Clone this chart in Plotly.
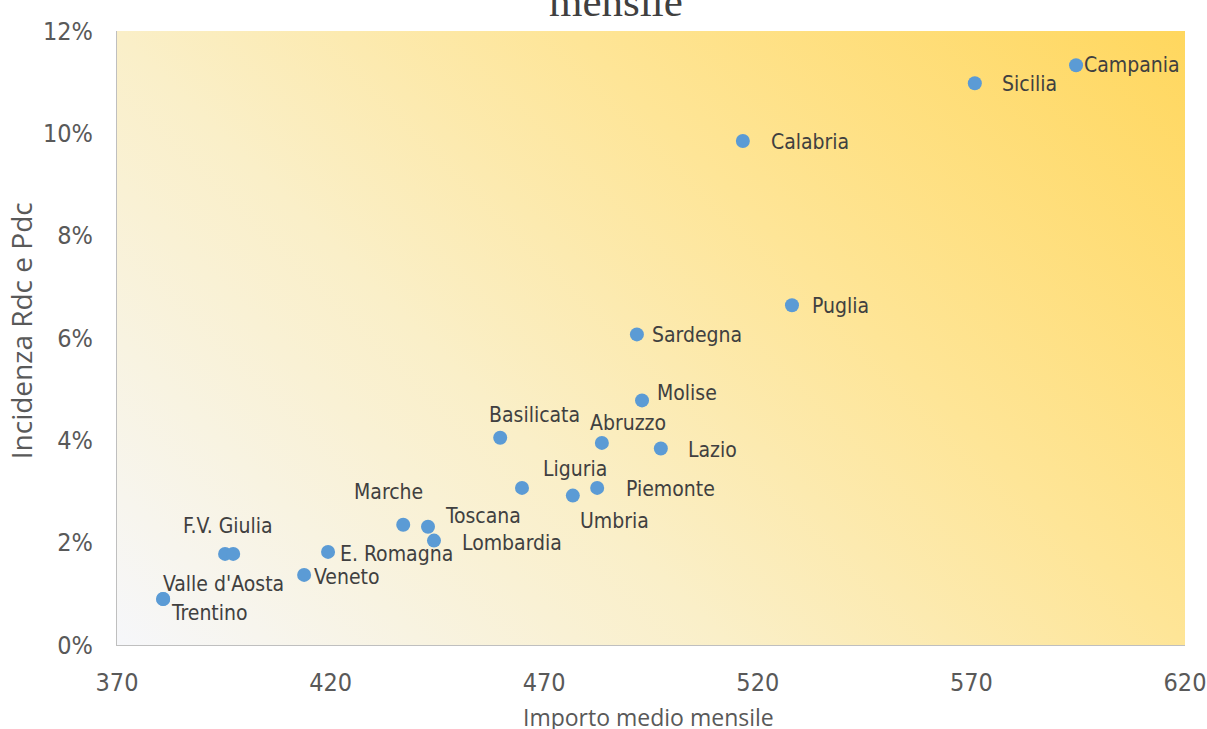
import plotly.graph_objects as go
import urllib.parse

# ---- data ----
regions = ["Campania", "Sicilia", "Calabria", "Puglia", "Sardegna", "Molise",
           "Basilicata", "Abruzzo", "Lazio", "Liguria", "Piemonte", "Umbria",
           "Marche", "Toscana", "Lombardia", "E. Romagna", "F.V. Giulia", "",
           "Veneto", "Valle d'Aosta", "Trentino"]
importo = [594.5, 570.8, 516.5, 528.0, 491.7, 492.9,
           459.7, 483.5, 497.3, 464.8, 482.4, 476.7,
           437.0, 442.8, 444.2, 419.4, 395.3, 397.2,
           413.8, 380.8, 380.8]
incidenza = [0.1133, 0.1098, 0.0985, 0.0664, 0.0607, 0.0478,
             0.0405, 0.0395, 0.0384, 0.0307, 0.0307, 0.0292,
             0.0235, 0.0231, 0.0204, 0.0182, 0.0178, 0.0178,
             0.0137, 0.0090, 0.0090]
x_ticks = [370, 420, 470, 520, 570, 620]
y_ticks = [0, 0.02, 0.04, 0.06, 0.08, 0.10, 0.12]

# ---- label styling (offsets in px: xanchor, xshift, yshift) ----
label_style = {
    "Campania": ("left", 6, 0), "Sicilia": ("left", 25, -1), "Calabria": ("left", 26, -1),
    "Puglia": ("left", 18, -1), "Sardegna": ("left", 13, -1), "Molise": ("left", 13, 7),
    "Basilicata": ("left", -13, 23), "Abruzzo": ("left", -14, 20), "Lazio": ("left", 25, -1),
    "Liguria": ("left", 19, 19), "Piemonte": ("left", 27, -1), "Umbria": ("left", 5, -25),
    "Marche": ("left", -51, 33), "Toscana": ("left", 15, 11), "Lombardia": ("left", 26, -2),
    "E. Romagna": ("left", 10, -2), "F.V. Giulia": ("left", -44, 28), "Veneto": ("left", 8, -2),
    "Valle d'Aosta": ("left", -2, 15), "Trentino": ("left", 6, -14),
}

NARROW = "Liberation Sans Narrow, DejaVu Sans Condensed, Arial Narrow, sans-serif"
TXT = "#404040"
AX = "#595959"

fig = go.Figure()
fig.add_trace(go.Scatter(
    x=importo, y=incidenza, mode="markers",
    marker=dict(size=14, color="#5b9bd5"),
    text=regions, hoverinfo="text+x+y", showlegend=False,
))

for name, xv, yv in zip(regions, importo, incidenza):
    if not name:
        continue
    anc, dx, dy = label_style[name]
    fig.add_annotation(x=xv, y=yv, xref="x", yref="y", text=name, showarrow=False,
                       xanchor=anc, yanchor="middle", xshift=dx, yshift=dy,
                       font=dict(family=NARROW, size=21, color=TXT))

# 45-degree linear gradient for the plot-area fill
svg = ('<svg xmlns="http://www.w3.org/2000/svg" width="1068" height="614" '
       'viewBox="0 0 1068 614" preserveAspectRatio="none">'
       '<defs><linearGradient id="g" gradientUnits="userSpaceOnUse" '
       'x1="0" y1="614" x2="841" y2="-227">'
       '<stop offset="0" stop-color="#f6f7fa"/>'
       '<stop offset="0.365" stop-color="#faefc8"/>'
       '<stop offset="0.635" stop-color="#fee597"/>'
       '<stop offset="1" stop-color="#ffd75e"/>'
       '</linearGradient></defs><rect width="1068" height="614" fill="url(#g)"/></svg>')
src = "data:image/svg+xml;charset=utf-8," + urllib.parse.quote(svg)

fig.add_layout_image(dict(source=src, xref="paper", yref="paper", x=0, y=1,
                          sizex=1, sizey=1, xanchor="left", yanchor="top",
                          sizing="stretch", layer="below"))

# title (only its last line is visible, cut at the top edge)
fig.add_annotation(text="mensile", xref="paper", yref="paper", x=0.467, y=1.0,
                   yshift=4, yanchor="bottom", showarrow=False,
                   font=dict(family="Liberation Serif, serif", size=43, color=TXT))
# axis titles
fig.add_annotation(text="Importo medio mensile", xref="paper", yref="paper", x=0.498, y=0,
                   yshift=-72, yanchor="middle", showarrow=False,
                   font=dict(family="Open Sans, sans-serif", size=23, color=AX))
fig.add_annotation(text="Incidenza Rdc e Pdc", xref="paper", yref="paper", x=0, y=0.511,
                   xshift=-96, xanchor="center", yanchor="middle", textangle=-90,
                   showarrow=False,
                   font=dict(family="Open Sans, sans-serif", size=28, color=AX))

fig.update_layout(
    width=1207, height=729,
    margin=dict(l=117, r=22, t=31, b=84),
    paper_bgcolor="white", plot_bgcolor="rgba(0,0,0,0)",
    xaxis=dict(range=[370, 620], tickvals=x_ticks, showgrid=False, zeroline=False,
               showline=True, linecolor="#bfbfbf", linewidth=1, automargin=False,
               ticks="", ticklabelstandoff=15, ticklabeloverflow="allow",
               tickfont=dict(family=NARROW, size=25, color=AX)),
    yaxis=dict(range=[0, 0.12], tickvals=y_ticks, tickformat=".0%", showgrid=False,
               zeroline=False, showline=True, linecolor="#bfbfbf", linewidth=1,
               automargin=False, ticks="", ticklabelstandoff=18, ticklabeloverflow="allow",
               tickfont=dict(family=NARROW, size=25, color=AX)),
)

fig.write_html("out.html", config={"displayModeBar": False},
               post_script="document.body.style.margin='0';document.body.style.overflow='hidden';")
